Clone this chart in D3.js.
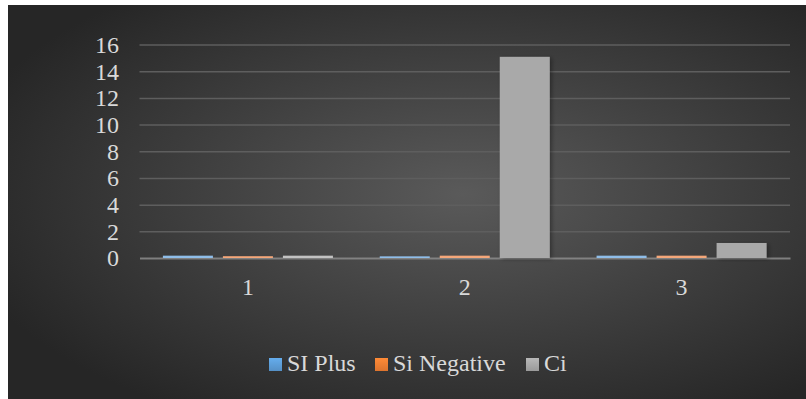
<!DOCTYPE html>
<html>
<head>
<meta charset="utf-8">
<script src="https://cdn.jsdelivr.net/npm/d3@7"></script>
<style>
  html, body { margin: 0; padding: 0; background: #ffffff; }
  svg { display: block; }
</style>
</head>
<body>
<svg id="svg" width="806" height="399"></svg>
<script>
//Data
const CATEGORIES = ["1", "2", "3"];
const SERIES_NAMES = ["SI Plus", "Si Negative", "Ci"];
const SI_PLUS = [0.1, 0.05, 0.1];
const SI_NEGATIVE = [0.06, 0.1, 0.1];
const CI = [0.1, 15, 1.05];
const Y_TICKS = [0, 2, 4, 6, 8, 10, 12, 14, 16];
const COLORS = ["#5b9bd5", "#ed7d31", "#a5a5a5"];
const LIGHT = ["#8fbde8", "#f4a77a", "#c2c2c2"];

const SVG = d3.select("#svg");
const FONT = "Liberation Serif";
const FONT_SIZE = 24;

//Background panel
let defs = SVG.append("defs");
let bg = defs.append("radialGradient").attr("id", "bg")
    .attr("cx", "57%").attr("cy", "48%").attr("r", "65%");
bg.append("stop").attr("offset", "0%").attr("stop-color", "#5a5a5a");
bg.append("stop").attr("offset", "100%").attr("stop-color", "#262626");

let shadow = defs.append("filter").attr("id", "shadow")
    .attr("x", "-20%").attr("y", "-10%").attr("width", "150%").attr("height", "130%");
shadow.append("feDropShadow").attr("dx", 2).attr("dy", 1).attr("stdDeviation", 2)
    .attr("flood-color", "#000").attr("flood-opacity", 0.35);

COLORS.forEach(function (c, i) {
    let g = defs.append("linearGradient").attr("id", "leg" + i)
        .attr("x1", 0).attr("y1", 0).attr("x2", 0).attr("y2", 1);
    g.append("stop").attr("offset", "0%").attr("stop-color", d3.color(c).brighter(0.3));
    g.append("stop").attr("offset", "100%").attr("stop-color", d3.color(c).darker(0.2));
});

SVG.append("rect").attr("class", "panel").attr("x", 8).attr("y", 5).attr("width", 798).attr("height", 394)
    .attr("fill", "url(#bg)");

//Scales
const LEFT = 139.5, RIGHT = 790, TOP = 44.5, BOTTOM = 258;
let x_scale = d3.scaleBand().domain(CATEGORIES).range([LEFT, RIGHT]).paddingInner(0).paddingOuter(0);
let x_inner = d3.scaleBand().domain(SERIES_NAMES).range([23.4, x_scale.bandwidth() - 23.4]).paddingInner(10 / 60);
let y_scale = d3.scaleLinear().domain([0, 16]).range([BOTTOM, TOP]);

//Gridlines and y labels
let y_axis = d3.axisLeft(y_scale).tickValues(Y_TICKS).tickSize(-(RIGHT - LEFT)).tickPadding(20);
let yg = SVG.append("g").attr("transform", "translate(" + LEFT + ",0)").call(y_axis);
yg.attr("font-family", FONT);
yg.select(".domain").remove();
yg.selectAll(".tick line").attr("stroke", "#5e5e5e").attr("stroke-width", 1.5)
    .attr("opacity", function (d) { return d === 0 ? 0 : 1; });
yg.selectAll(".tick text").attr("fill", "#d9d9d9").attr("font-family", FONT)
    .attr("font-size", FONT_SIZE).attr("x", -20.5).attr("dy", "0.33em");

//X axis
let x_axis = d3.axisBottom(x_scale).tickSize(0);
let xg = SVG.append("g").attr("transform", "translate(0," + BOTTOM + ")").call(x_axis);
xg.attr("font-family", FONT);
xg.select(".domain").attr("stroke", "#8c8c8c").attr("stroke-width", 2).attr("opacity", 0.85);
xg.selectAll(".tick text").attr("fill", "#d9d9d9").attr("font-family", FONT)
    .attr("font-size", FONT_SIZE).attr("y", 37).attr("dy", 0);

//Bars
let table = CATEGORIES.map(function (c, i) {
    return { cat: c, values: [SI_PLUS[i], SI_NEGATIVE[i], CI[i]] };
});
let groups = SVG.append("g").selectAll("g").data(table).enter().append("g")
    .attr("transform", function (d) { return "translate(" + x_scale(d.cat) + ",0)"; });
groups.selectAll("rect")
    .data(function (d) { return d.values.map(function (v, i) { return { name: SERIES_NAMES[i], v: v, i: i }; }); })
    .enter().append("rect")
    .attr("x", function (d) { return x_inner(d.name); })
    .attr("y", function (d) { return y_scale(d.v) - 1; })
    .attr("width", x_inner.bandwidth())
    .attr("height", function (d) { return BOTTOM - y_scale(d.v) + 1; })
    .attr("fill", function (d) { return d.v > 0.5 ? "#a9a9a9" : LIGHT[d.i]; })
    .attr("filter", function (d) { return d.v > 0.5 ? "url(#shadow)" : null; });

//Legend
const LEGEND_X = [269, 375, 526];
let legend = SVG.append("g").selectAll("g").data(SERIES_NAMES).enter().append("g")
    .attr("transform", function (d, i) { return "translate(" + LEGEND_X[i] + ",358)"; });
legend.append("rect").attr("width", 13).attr("height", 13)
    .attr("fill", function (d, i) { return "url(#leg" + i + ")"; });
legend.append("text").attr("x", 18).attr("y", 13).attr("fill", "#d9d9d9")
    .attr("font-family", FONT).attr("font-size", FONT_SIZE).text(function (d) { return d; });
</script>
</body>
</html>
